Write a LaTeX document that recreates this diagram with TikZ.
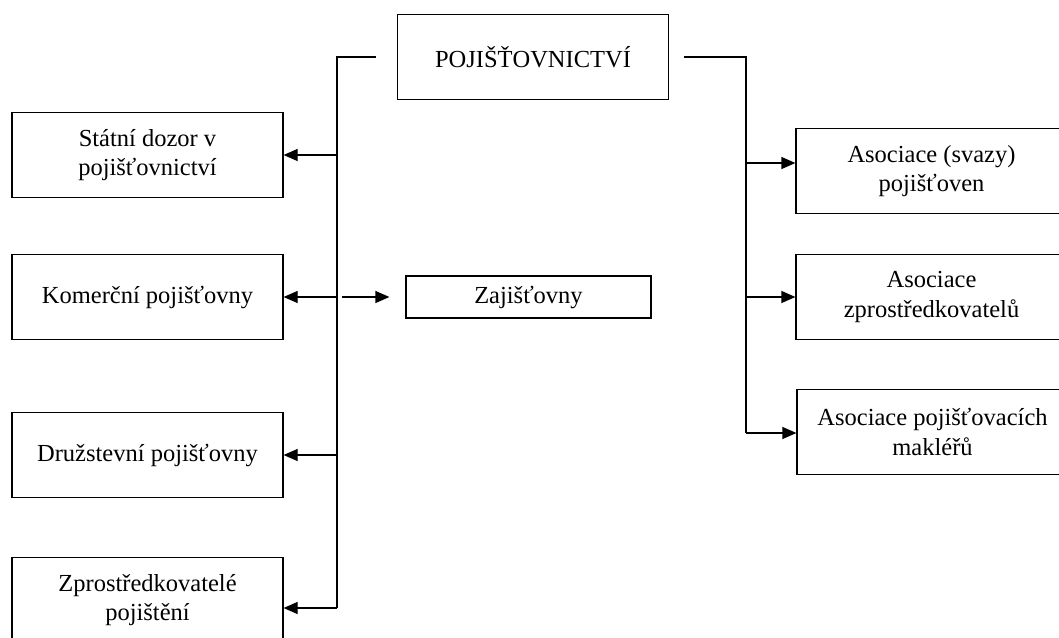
\documentclass[tikz,border=0pt]{standalone}
\usepackage{fontspec}
\setmainfont{Liberation Serif}
\usetikzlibrary{arrows.meta,calc,positioning}
\tikzset{%
	block/.style      = {draw, rectangle, line width=1.2pt, minimum width=271pt, minimum height=85pt, align=center, inner sep=0pt},
	smallblock/.style = {draw, rectangle, line width=1.2pt, minimum width=245pt, minimum height=42pt, inner sep=0pt},
	waypoint/.style   = {coordinate},
	trunk/.style      = {line width=1.2pt},
	arrow/.style      = {line width=1.2pt, -{Triangle[length=14pt,width=12pt]}},
}

\begin{document}
\begin{tikzpicture}[x=1pt,y=-1pt,font=\fontsize{24.5}{29.5}\selectfont]
	\useasboundingbox (0,0) rectangle (1059,637);
	\clip (0,0) rectangle (1059,637);
	% top
	\node [block] (poj) at (533,57) {POJIŠŤOVNICTVÍ};
	% left column
	\node [block] (dozor) at (147.5,155) {Státní dozor v\\pojišťovnictví};
	\node [block] (kom) at (147.5,297) {Komerční pojišťovny};
	\node [block] (druz) at (147.5,455) {Družstevní pojišťovny};
	\node [block] (zpro) at (147.5,600) {Zprostředkovatelé\\pojištění};
	\node [smallblock] (zaj) at (528.5,297) {Zajišťovny};
	% right column
	\node [block] (asvaz) at (931.5,171) {Asociace (svazy)\\pojišťoven};
	\node [block] (aszpr) at (931.5,297) {Asociace\\zprostředkovatelů};
	\node [block] (asmak) at (932.5,432) {Asociace pojišťovacích\\makléřů};
	\node [waypoint] (tl) at (337,608) {};
	\node [waypoint] (tr) at (746,433) {};
	\node [waypoint] (vaz) at ($(asvaz.west)+(0,-8)$) {};
	
	\draw[trunk,shorten <=21pt] (poj.west) -| (tl);
	\draw[arrow] (tl) -- (zpro.east |- tl);
	\draw[arrow] (tl |- dozor.east) -- (dozor.east);
	\draw[arrow] (tl |- kom.east) -- (kom.east);
	\draw[arrow,shorten <=5pt,shorten >=16pt] (tl |- kom.east) -- (zaj.west);
	\draw[arrow] (tl |- druz.east) -- (druz.east);
	
	\draw[trunk,shorten <=15pt] (poj.east) -| (tr);
	\draw[arrow] (tr) -- (asmak.west |- tr);
	\draw[arrow] (tr |- vaz) -- (vaz);
	\draw[arrow] (tr |- aszpr.west) -- (aszpr.west);
\end{tikzpicture}
\end{document}
